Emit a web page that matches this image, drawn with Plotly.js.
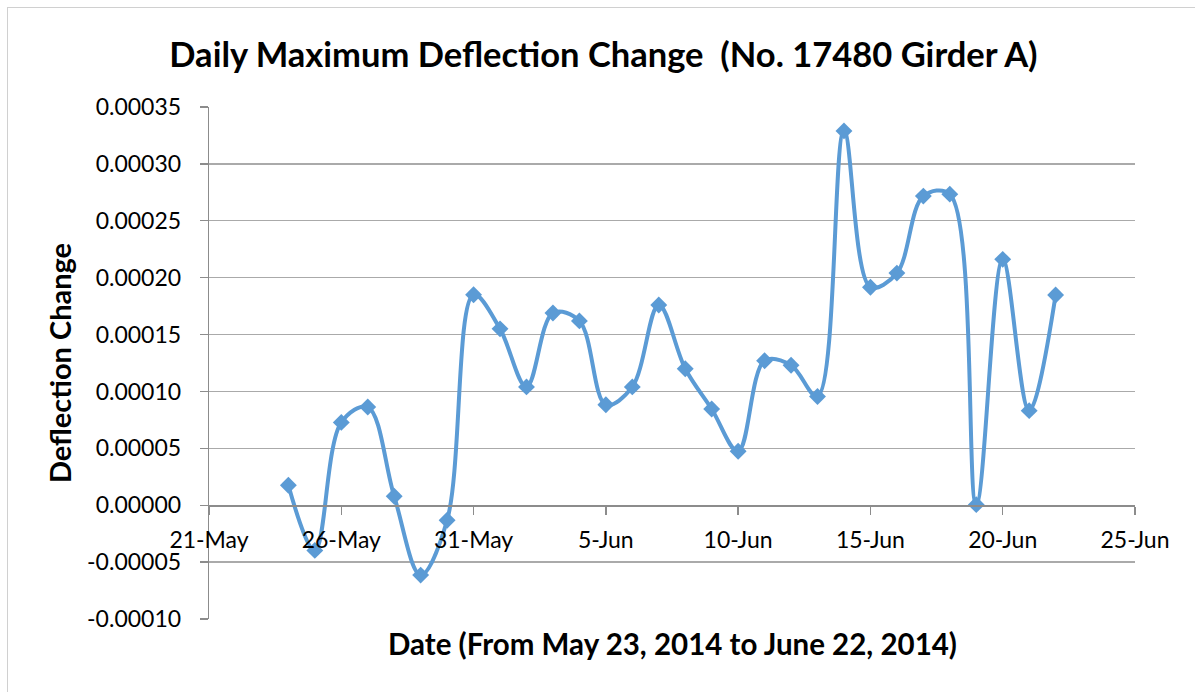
<!DOCTYPE html>
<html>
<head>
<meta charset="utf-8">
<script src="https://cdn.plot.ly/plotly-3.0.1.min.js"></script>
<style>
  html, body { margin: 0; padding: 0; background: #ffffff; }
  #wrap { position: relative; width: 1195px; height: 692px; overflow: hidden; }
  #frame { position: absolute; left: 7px; top: 7px; width: 1200px; height: 700px;
           border-left: 1px solid #d0d0d0; border-top: 1px solid #d0d0d0; pointer-events: none; }
  #chart { position: absolute; left: 0; top: 0; width: 1195px; height: 692px; }
</style>
</head>
<body>
<div id="wrap">
  <div id="chart"></div>
  <div id="frame"></div>
</div>
<script>
// Data: daily maximum deflection change
const dates = [
  '2014-05-24','2014-05-25','2014-05-26','2014-05-27','2014-05-28','2014-05-29','2014-05-30','2014-05-31',
  '2014-06-01','2014-06-02','2014-06-03','2014-06-04','2014-06-05','2014-06-06','2014-06-07','2014-06-08',
  '2014-06-09','2014-06-10','2014-06-11','2014-06-12','2014-06-13','2014-06-14','2014-06-15','2014-06-16',
  '2014-06-17','2014-06-18','2014-06-19','2014-06-20','2014-06-21','2014-06-22'
];
const deflection = [
  0.0000175, -0.0000397, 0.0000728, 0.0000863, 0.0000079, -0.0000614, -0.0000132, 0.000185,
  0.000155, 0.000104, 0.000169, 0.000162, 0.0000883, 0.000104, 0.000176, 0.000120,
  0.0000846, 0.0000474, 0.000127, 0.000123, 0.0000956, 0.000329, 0.0001916, 0.000204,
  0.0002717, 0.0002734, 0.0000005, 0.0002161, 0.0000831, 0.0001848
];
const yTickVals = [-0.0001, -0.00005, 0, 0.00005, 0.0001, 0.00015, 0.0002, 0.00025, 0.0003, 0.00035];
const yTickText = ['-0.00010','-0.00005','0.00000','0.00005','0.00010','0.00015','0.00020','0.00025','0.00030','0.00035'];
const xRange = ['2014-05-21', '2014-06-25'];
const titleText = 'Daily Maximum Deflection Change  (No. 17480 Girder A)';
const xTitle = 'Date (From May 23, 2014 to June 22, 2014)';
const yTitle = 'Deflection Change';

const yMin = -0.0001, yMax = 0.00035;
const zeroPos = (0 - yMin) / (yMax - yMin);

const trace = {
  x: dates, y: deflection, type: 'scatter', mode: 'lines+markers',
  line: { color: '#5b9bd5', width: 4, shape: 'spline', smoothing: 1 },
  marker: { symbol: 'diamond', size: 13, color: '#5b9bd5' },
  hoverinfo: 'x+y'
};

const font = 'Lato, "Open Sans", sans-serif';
const layout = {
  width: 1195, height: 692,
  margin: { l: 209, r: 60, t: 107, b: 73 },
  paper_bgcolor: '#ffffff', plot_bgcolor: '#ffffff',
  showlegend: false,
  font: { family: font, color: '#000000', size: 23 },
  title: { text: '<b>' + titleText + '</b>', x: 0.505, xanchor: 'center', y: 0.92, yanchor: 'middle',
           font: { family: font, size: 34.5, color: '#000000' } },
  xaxis: {
    type: 'date', range: xRange, tick0: '2014-05-21', dtick: 5 * 86400000,
    tickformat: '%-d-%b', anchor: 'free', position: zeroPos,
    showgrid: false, zeroline: false, showline: true, linecolor: '#8c8c8c', linewidth: 1.3,
    ticks: 'outside', ticklen: 8, tickcolor: '#8c8c8c', tickwidth: 1.3,
    ticklabelstandoff: 6,
    tickfont: { family: font, size: 23, color: '#000000' },
    fixedrange: true
  },
  yaxis: {
    range: [yMin, yMax], tickvals: yTickVals, ticktext: yTickText,
    showgrid: true, gridcolor: '#aaaaaa', gridwidth: 1.3, zeroline: false,
    showline: true, linecolor: '#8c8c8c', linewidth: 1.3,
    ticks: 'outside', ticklen: 8, tickcolor: '#8c8c8c', tickwidth: 1.3,
    ticklabelstandoff: 14,
    tickfont: { family: font, size: 23, color: '#000000' },
    title: { text: '<b>' + yTitle + '</b>', font: { family: font, size: 29, color: '#000000' }, standoff: 7 },
    fixedrange: true
  },
  annotations: [{
    text: '<b>' + xTitle + '</b>', xref: 'paper', yref: 'paper', x: 0.5, y: 0, yshift: -24,
    xanchor: 'center', yanchor: 'middle', showarrow: false,
    font: { family: font, size: 29.5, color: '#000000' }
  }]
};

Plotly.newPlot('chart', [trace], layout, { displayModeBar: false, staticPlot: true });
</script>
</body>
</html>
